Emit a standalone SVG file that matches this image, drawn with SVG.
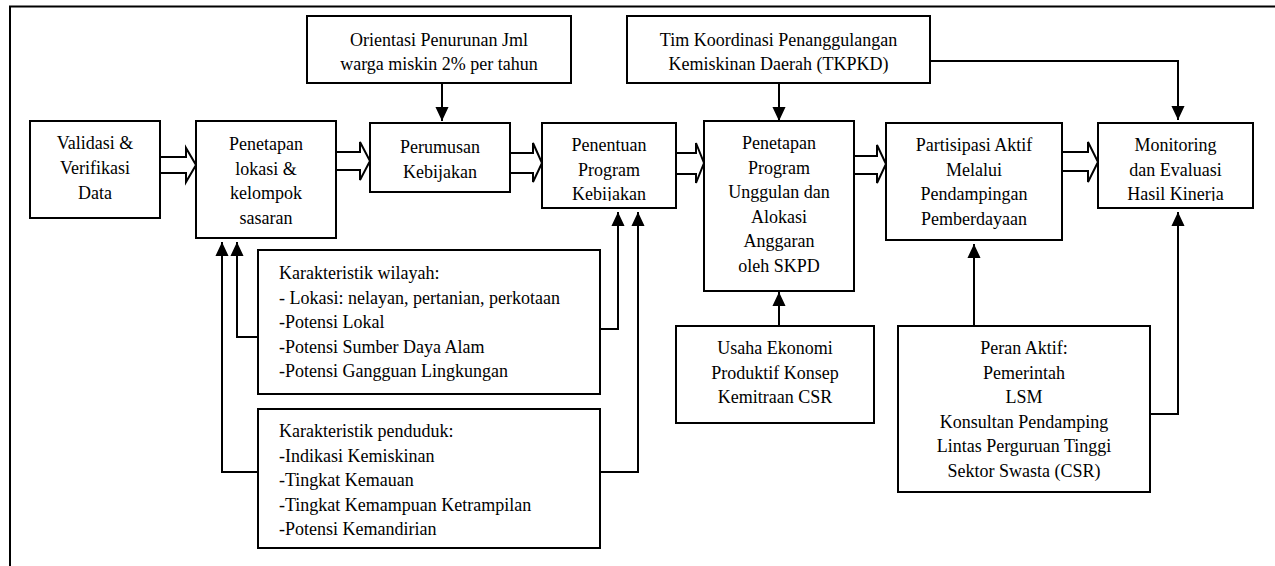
<svg xmlns="http://www.w3.org/2000/svg" width="1275" height="566" viewBox="0 0 1275 566">
<style>
.box{fill:#fff;stroke:#000;stroke-width:2}
.t{font-family:"Liberation Serif","Times New Roman",serif;font-size:18px;fill:#000}
.c{text-anchor:middle}
.ln{fill:none;stroke:#000;stroke-width:2}
.blk{fill:#fff;stroke:#000;stroke-width:2;stroke-linejoin:miter}
</style>
<defs>
<marker id="ah" markerUnits="userSpaceOnUse" markerWidth="14" markerHeight="15" refX="15" refY="7" orient="auto" viewBox="0 0 15 14">
<path d="M0,0 L15,7 L0,14 Z" fill="#000"/>
</marker>
<clipPath id="clipPen"><rect x="542" y="123" width="134" height="78"/></clipPath>
<clipPath id="clipMon"><rect x="1098" y="123" width="155" height="78"/></clipPath>
</defs>

<path class="ln" d="M10,566 V6.5 H1275"/>

<g id="connectors">
<path class="ln" d="M442,83 V121" marker-end="url(#ah)"/>
<path class="ln" d="M779,83 V121" marker-end="url(#ah)"/>
<path class="ln" d="M930,61 H1178 V120" marker-end="url(#ah)"/>
<path class="ln" d="M258,337 H237 V242" marker-end="url(#ah)"/>
<path class="ln" d="M258,472 H222 V242" marker-end="url(#ah)"/>
<path class="ln" d="M600,329 H618 V212" marker-end="url(#ah)"/>
<path class="ln" d="M600,472 H638 V212" marker-end="url(#ah)"/>
<path class="ln" d="M779,326 V292" marker-end="url(#ah)"/>
<path class="ln" d="M974,326 V244" marker-end="url(#ah)"/>
<path class="ln" d="M1150,414 H1178 V212" marker-end="url(#ah)"/>
<path class="blk" d="M160,157 H186 V148 L196,165 L186,182 V173 H160"/>
<path class="blk" d="M336,152 H360 V142 L370,161 L360,180 V170 H336"/>
<path class="blk" d="M510,153 H533 V143 L542,163 L533,182 V173 H510"/>
<path class="blk" d="M676,153 H696 V143 L704,163 L696,183 V174 H676"/>
<path class="blk" d="M854,156 H877 V145 L886,164 L877,183 V174 H854"/>
<path class="blk" d="M1062,152 H1088 V142 L1098,162 L1088,182 V171 H1062"/>
</g>

<g id="orientasi">
<rect class="box" x="307" y="16" width="264" height="67"/>
<text class="t c" x="439" y="45.5">Orientasi Penurunan Jml</text>
<text class="t c" x="439" y="70">warga miskin 2% per tahun</text>
</g>

<g id="tkpkd">
<rect class="box" x="627" y="16" width="303" height="67"/>
<text class="t c" x="778.5" y="45.5">Tim Koordinasi Penanggulangan</text>
<text class="t c" x="778.5" y="70">Kemiskinan Daerah (TKPKD)</text>
</g>

<g id="validasi">
<rect class="box" x="30" y="121" width="130" height="97"/>
<text class="t c" x="95" y="149">Validasi &amp;</text>
<text class="t c" x="95" y="174">Verifikasi</text>
<text class="t c" x="95" y="199">Data</text>
</g>

<g id="penetapan-lokasi">
<rect class="box" x="196" y="121" width="140" height="117"/>
<text class="t c" x="266" y="150">Penetapan</text>
<text class="t c" x="266" y="174.5">lokasi &amp;</text>
<text class="t c" x="266" y="199">kelompok</text>
<text class="t c" x="266" y="223.5">sasaran</text>
</g>

<g id="perumusan">
<rect class="box" x="370" y="123" width="140" height="69"/>
<text class="t c" x="440" y="152.5">Perumusan</text>
<text class="t c" x="440" y="177.5">Kebijakan</text>
</g>

<g id="penentuan">
<rect class="box" x="542" y="123" width="134" height="85"/>
<g clip-path="url(#clipPen)">
<text class="t c" x="609" y="151">Penentuan</text>
<text class="t c" x="609" y="175.5">Program</text>
<text class="t c" x="609" y="200">Kebijakan</text>
</g>
</g>

<g id="penetapan-program">
<rect class="box" x="704" y="121" width="150" height="170"/>
<text class="t c" x="779" y="149">Penetapan</text>
<text class="t c" x="779" y="173.5">Program</text>
<text class="t c" x="779" y="198">Unggulan dan</text>
<text class="t c" x="779" y="222.5">Alokasi</text>
<text class="t c" x="779" y="247">Anggaran</text>
<text class="t c" x="779" y="271.5">oleh SKPD</text>
</g>

<g id="partisipasi">
<rect class="box" x="886" y="123" width="176" height="117"/>
<text class="t c" x="974" y="151">Partisipasi Aktif</text>
<text class="t c" x="974" y="175.5">Melalui</text>
<text class="t c" x="974" y="200">Pendampingan</text>
<text class="t c" x="974" y="224.5">Pemberdayaan</text>
</g>

<g id="monitoring">
<rect class="box" x="1098" y="123" width="155" height="85"/>
<g clip-path="url(#clipMon)">
<text class="t c" x="1175.5" y="151">Monitoring</text>
<text class="t c" x="1175.5" y="175.5">dan Evaluasi</text>
<text class="t c" x="1175.5" y="200">Hasil Kinerja</text>
</g>
</g>

<g id="karakteristik-wilayah">
<rect class="box" x="258" y="250" width="342" height="144"/>
<text class="t" x="279" y="279">Karakteristik wilayah:</text>
<text class="t" x="279" y="303.5">- Lokasi: nelayan, pertanian, perkotaan</text>
<text class="t" x="279" y="328">-Potensi Lokal</text>
<text class="t" x="279" y="352.5">-Potensi Sumber Daya Alam</text>
<text class="t" x="279" y="377">-Potensi Gangguan Lingkungan</text>
</g>

<g id="karakteristik-penduduk">
<rect class="box" x="258" y="409" width="342" height="139"/>
<text class="t" x="279" y="437">Karakteristik penduduk:</text>
<text class="t" x="279" y="461.5">-Indikasi Kemiskinan</text>
<text class="t" x="279" y="486">-Tingkat Kemauan</text>
<text class="t" x="279" y="510.5">-Tingkat Kemampuan Ketrampilan</text>
<text class="t" x="279" y="535">-Potensi Kemandirian</text>
</g>

<g id="usaha-ekonomi">
<rect class="box" x="676" y="326" width="198" height="97"/>
<text class="t c" x="775" y="354">Usaha Ekonomi</text>
<text class="t c" x="775" y="378.5">Produktif Konsep</text>
<text class="t c" x="775" y="403">Kemitraan CSR</text>
</g>

<g id="peran-aktif">
<rect class="box" x="898" y="326" width="252" height="166"/>
<text class="t c" x="1024" y="354">Peran Aktif:</text>
<text class="t c" x="1024" y="378.5">Pemerintah</text>
<text class="t c" x="1024" y="403">LSM</text>
<text class="t c" x="1024" y="427.5">Konsultan Pendamping</text>
<text class="t c" x="1024" y="452">Lintas Perguruan Tinggi</text>
<text class="t c" x="1024" y="476.5">Sektor Swasta (CSR)</text>
</g>
</svg>
